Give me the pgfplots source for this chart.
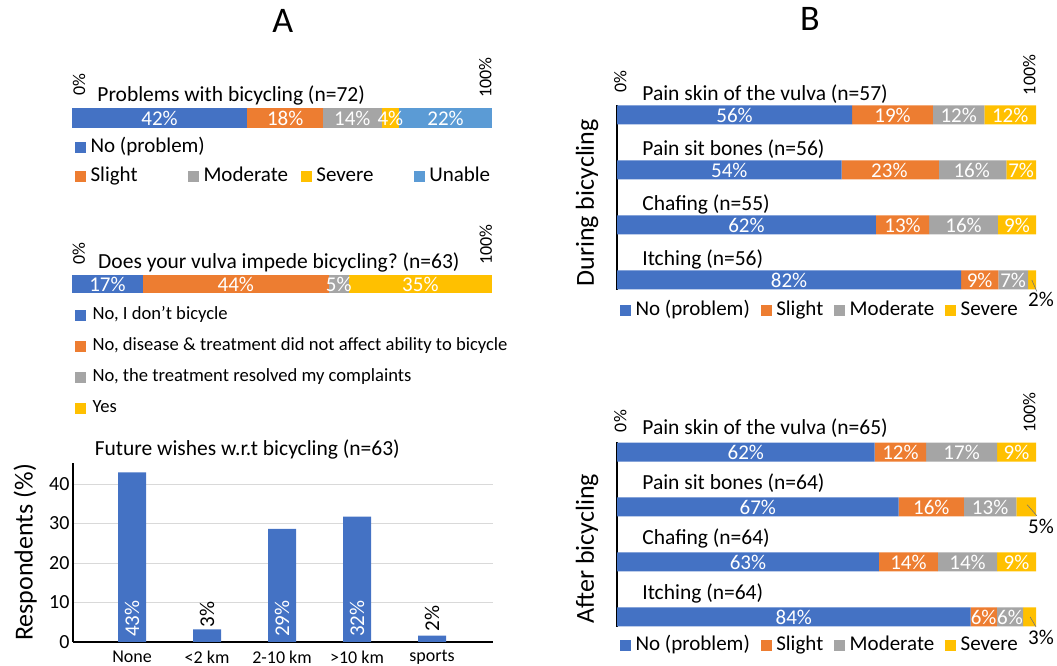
\documentclass[border=0pt]{standalone}
\usepackage{pgfplots}
\pgfplotsset{compat=1.18}
\usepackage{fontspec}
\setmainfont{Carlito}
\frenchspacing
\newcommand\fs[1]{\fontsize{#1}{#1}\selectfont}
\definecolor{cblue}{HTML}{4472C4}
\definecolor{corange}{HTML}{ED7D31}
\definecolor{cgray}{HTML}{A5A5A5}
\definecolor{cyellow}{HTML}{FFC000}
\definecolor{clblue}{HTML}{5B9BD5}
\pgfplotsset{
  sq/.style={legend image code/.code={\fill[#1] (0pt,-5pt) rectangle (10pt,5pt);}},
  hbase/.style={scale only axis, anchor=south west, xmin=0, xmax=100, clip=false},
  lab/.style={draw=none, forget plot, nodes near coords, point meta=explicit symbolic,
     every node near coord/.append style={anchor=center, inner sep=0pt, font=\fs{21}, text=white}},
  ttl/.style={draw=none, forget plot, nodes near coords, point meta=explicit symbolic,
     every node near coord/.append style={anchor=west, inner sep=0pt, font=\fs{21.5}, text=black}},
  pct/.style={draw=none, forget plot, nodes near coords, point meta=explicit symbolic,
     every node near coord/.append style={anchor=west, rotate=90, inner sep=0pt, font=\fs{18}, text=black}},
  leader/.style={forget plot, black!55, line width=0.6pt},
}
\begin{document}
\begin{tikzpicture}[x=1pt,y=1pt]
\path[use as bounding box] (0,0) rectangle (1057,666);

%% ---------------- Panel A: Problems with bicycling
\begin{axis}[hbase, at={(72pt,538pt)}, width=420pt, height=20pt, ymin=-0.5, ymax=0.5,
  xbar stacked, bar width=20pt, axis line style={draw=none}, xtick=\empty, ytick=\empty,
  title=A, title style={at={(axis description cs:0.502,1)}, anchor=center, yshift=81pt, font=\fs{36}}]
\addplot[fill=cblue, draw=none] coordinates {(41.7,0)};
\addplot[fill=corange, draw=none] coordinates {(18.1,0)};
\addplot[fill=cgray, draw=none] coordinates {(13.9,0)};
\addplot[fill=cyellow, draw=none] coordinates {(4.2,0)};
\addplot[fill=clblue, draw=none] coordinates {(22.1,0)};
\end{axis}
\begin{axis}[hbase, hide axis, at={(72pt,538pt)}, width=420pt, height=20pt, ymin=-0.5, ymax=0.5,
  legend columns=4, legend cell align=left,
  legend style={at={(axis description cs:0,0)}, anchor=north west, xshift=3pt, yshift=-10pt,
    draw=none, fill=none, inner sep=0pt, font=\fs{21},
    nodes={inner sep=0pt, text height=14pt, text depth=4pt}, row sep=11pt,
    /tikz/every odd column/.style={column sep=5pt}}]
\addlegendimage{sq=cblue}\addlegendentry{\makebox[97.5pt][l]{No (problem)}}
\addlegendimage{empty legend}\addlegendentry{}
\addlegendimage{empty legend}\addlegendentry{}
\addlegendimage{empty legend}\addlegendentry{}
\addlegendimage{sq=corange}\addlegendentry{\makebox[97.5pt][l]{Slight}}
\addlegendimage{sq=cgray}\addlegendentry{\makebox[97.5pt][l]{Moderate}}
\addlegendimage{sq=cyellow}\addlegendentry{\makebox[97.5pt][l]{Severe}}
\addlegendimage{sq=clblue}\addlegendentry{\makebox[60pt][l]{Unable}}
\addplot[lab] coordinates {(20.85,0)[42\%] (50.75,0)[18\%] (66.75,0)[14\%] (75.8,0)[4\%] (88.95,0)[22\%]};
\addplot[ttl] coordinates {(6,1.15)[Problems with bicycling (n=72)]};
\addplot[pct] coordinates {(1.7,1.12)[0\%] (98.4,1.0)[100\%]};
\end{axis}

%% ---------------- Panel A: Does your vulva impede bicycling
\begin{axis}[hbase, at={(72pt,373pt)}, width=420pt, height=18pt, ymin=-0.5, ymax=0.5,
  xbar stacked, bar width=18pt, axis line style={draw=none}, xtick=\empty, ytick=\empty]
\addplot[fill=cblue, draw=none] coordinates {(16.9,0)};
\addplot[fill=corange, draw=none] coordinates {(44.2,0)};
\addplot[fill=cgray, draw=none] coordinates {(4.8,0)};
\addplot[fill=cyellow, draw=none] coordinates {(34.1,0)};
\end{axis}
\begin{axis}[hbase, hide axis, at={(72pt,373pt)}, width=420pt, height=18pt, ymin=-0.5, ymax=0.5,
  legend columns=1, legend cell align=left,
  legend style={at={(axis description cs:0,0)}, anchor=north west, xshift=3pt, yshift=-13pt,
    draw=none, fill=none, inner sep=0pt, font=\fs{18.6},
    nodes={inner sep=0pt, text height=13.5pt, text depth=4.5pt}, row sep=13pt,
    /tikz/every odd column/.style={column sep=7pt}}]
\addlegendimage{sq=cblue}\addlegendentry{No, I don’t bicycle}
\addlegendimage{sq=corange}\addlegendentry{No, disease \& treatment did not affect ability to bicycle}
\addlegendimage{sq=cgray}\addlegendentry{No, the treatment resolved my complaints}
\addlegendimage{sq=cyellow}\addlegendentry{Yes}
\addplot[lab] coordinates {(8.45,0)[17\%] (39.0,0)[44\%] (63.5,0)[5\%] (82.95,0)[35\%]};
\addplot[ttl] coordinates {(6.2,1.17)[Does your vulva impede bicycling? (n=63)]};
\addplot[pct] coordinates {(1.6,1.06)[0\%] (98.5,1.06)[100\%]};
\end{axis}

%% ---------------- Panel A: Future wishes
\begin{axis}[at={(73pt,24pt)}, anchor=south west, scale only axis, width=420pt, height=179pt,
  xmin=-0.787, xmax=4.813, ymin=0, ymax=45.3,
  axis x line*=bottom, axis y line*=left, axis line style={line width=1.5pt, black},
  xtick={0,1,2,3,4}, xticklabels={None,{<2 km},{2-10 km},{>10 km},sports},
  ytick={0,10,20,30,40}, ymajorgrids, grid style={black!15, line width=0.8pt},
  major tick length=0pt, /pgf/number format/assume math mode=true,
  yticklabel style={font=\fs{20}}, xticklabel style={font=\fs{18}, yshift=-5pt},
  ylabel={Respondents (\%)},
  every axis y label/.style={at={(axis description cs:-0.114,0.5)}, rotate=90, anchor=center, font=\fs{26}},
  title={Future wishes w.r.t bicycling (n=63)},
  title style={at={(axis description cs:0.415,1)}, anchor=center, yshift=8pt, font=\fs{21.5}},
  clip=false]
\addplot[ybar, bar width=28pt, fill=cblue, draw=none] coordinates {(0,42.9) (1,3.2) (2,28.6) (3,31.7) (4,1.6)};
\addplot[lab, every node near coord/.append style={rotate=90, anchor=west, font=\fs{21}}]
  coordinates {(0,1.3)[43\%] (2,1.3)[29\%] (3,1.3)[32\%]};
\addplot[lab, every node near coord/.append style={rotate=90, anchor=west, font=\fs{21}, text=black}]
  coordinates {(1,3.6)[3\%] (4,2.6)[2\%]};
\end{axis}

%% ---------------- Panel B: During bicycling
\begin{axis}[hbase, at={(617pt,376pt)}, width=419pt, height=185pt, ymin=-0.182, ymax=3.182,
  xbar stacked, bar width=19pt, hide x axis, axis y line*=left,
  y axis line style={line width=2pt, black}, ytick=\empty,
  ylabel={During bicycling},
  every axis y label/.style={at={(axis description cs:-0.0716,0)}, rotate=90, anchor=west, font=\fs{26}},
  title=B, title style={at={(axis description cs:0.4606,1)}, anchor=center, yshift=80pt, font=\fs{36}}]
\addplot[fill=cblue, draw=none] coordinates {(56.1,3) (53.6,2) (61.8,1) (82.1,0)};
\addplot[fill=corange, draw=none] coordinates {(19.3,3) (23.2,2) (12.7,1) (8.9,0)};
\addplot[fill=cgray, draw=none] coordinates {(12.3,3) (16.1,2) (16.4,1) (7.1,0)};
\addplot[fill=cyellow, draw=none] coordinates {(12.3,3) (7.1,2) (9.1,1) (1.9,0)};
\end{axis}
\begin{axis}[hbase, hide axis, at={(617pt,376pt)}, width=419pt, height=185pt, ymin=-0.182, ymax=3.182,
  legend columns=4, legend cell align=left,
  legend style={at={(axis description cs:0,0)}, anchor=north west, xshift=3pt, yshift=-11pt,
    draw=none, fill=none, inner sep=0pt, font=\fs{21},
    nodes={inner sep=0pt, text height=14pt, text depth=4pt},
    /tikz/every odd column/.style={column sep=5pt},
    /tikz/every even column/.style={column sep=11pt}}]
\addlegendimage{sq=cblue}\addlegendentry{No (problem)}
\addlegendimage{sq=corange}\addlegendentry{Slight}
\addlegendimage{sq=cgray}\addlegendentry{Moderate}
\addlegendimage{sq=cyellow}\addlegendentry{Severe}
\addplot[lab] coordinates {(28.05,3)[56\%] (65.75,3)[19\%] (81.55,3)[12\%] (93.85,3)[12\%]
  (26.8,2)[54\%] (65.0,2)[23\%] (84.65,2)[16\%] (96.45,2)[7\%]
  (30.9,1)[62\%] (68.15,1)[13\%] (82.7,1)[16\%] (95.45,1)[9\%]
  (41.05,0)[82\%] (86.55,0)[9\%] (94.55,0)[7\%]};
\addplot[lab, every node near coord/.append style={text=black}] coordinates {(101.2,-0.355)[2\%]};
\addplot[leader] coordinates {(99.0,0.0) (100.2,-0.21)};
\addplot[ttl] coordinates {(6,3.38)[Pain skin of the vulva (n=57)] (6,2.38)[Pain sit bones (n=56)]
  (6,1.38)[Chafing (n=55)] (6,0.38)[Itching (n=56)]};
\addplot[pct] coordinates {(0.8,3.40)[0\%] (98.4,3.36)[100\%]};
\end{axis}

%% ---------------- Panel B: After bicycling
\begin{axis}[hbase, at={(617pt,39pt)}, width=419pt, height=185pt, ymin=-0.182, ymax=3.182,
  xbar stacked, bar width=19pt, hide x axis, axis y line*=left,
  y axis line style={line width=2pt, black}, ytick=\empty,
  ylabel={After bicycling},
  every axis y label/.style={at={(axis description cs:-0.0716,0)}, rotate=90, anchor=west, font=\fs{26}}]
\addplot[fill=cblue, draw=none] coordinates {(61.5,3) (67.2,2) (62.5,1) (84.4,0)};
\addplot[fill=corange, draw=none] coordinates {(12.3,3) (15.6,2) (14.1,1) (6.25,0)};
\addplot[fill=cgray, draw=none] coordinates {(16.9,3) (12.5,2) (14.1,1) (6.25,0)};
\addplot[fill=cyellow, draw=none] coordinates {(9.3,3) (4.7,2) (9.3,1) (3.1,0)};
\end{axis}
\begin{axis}[hbase, hide axis, at={(617pt,39pt)}, width=419pt, height=185pt, ymin=-0.182, ymax=3.182,
  legend columns=4, legend cell align=left,
  legend style={at={(axis description cs:0,0)}, anchor=north west, xshift=3pt, yshift=-9pt,
    draw=none, fill=none, inner sep=0pt, font=\fs{21},
    nodes={inner sep=0pt, text height=14pt, text depth=4pt},
    /tikz/every odd column/.style={column sep=5pt},
    /tikz/every even column/.style={column sep=11pt}}]
\addlegendimage{sq=cblue}\addlegendentry{No (problem)}
\addlegendimage{sq=corange}\addlegendentry{Slight}
\addlegendimage{sq=cgray}\addlegendentry{Moderate}
\addlegendimage{sq=cyellow}\addlegendentry{Severe}
\addplot[lab] coordinates {(30.75,3)[62\%] (67.65,3)[12\%] (82.25,3)[17\%] (95.35,3)[9\%]
  (33.6,2)[67\%] (75.0,2)[16\%] (89.05,2)[13\%]
  (31.25,1)[63\%] (69.55,1)[14\%] (83.65,1)[14\%] (95.35,1)[9\%]
  (42.2,0)[84\%] (87.5,0)[6\%] (93.8,0)[6\%]};
\addplot[lab, every node near coord/.append style={text=black}] coordinates {(101.2,1.655)[5\%] (101.2,-0.38)[3\%]};
\addplot[leader] coordinates {(97.9,2.04) (100.2,1.84)};
\addplot[leader] coordinates {(98.6,0.0) (100.0,-0.18)};
\addplot[ttl] coordinates {(6,3.43)[Pain skin of the vulva (n=65)] (6,2.43)[Pain sit bones (n=64)]
  (6,1.43)[Chafing (n=64)] (6,0.43)[Itching (n=64)]};
\addplot[pct] coordinates {(0.8,3.36)[0\%] (98.4,3.35)[100\%]};
\end{axis}
\end{tikzpicture}
\end{document}
